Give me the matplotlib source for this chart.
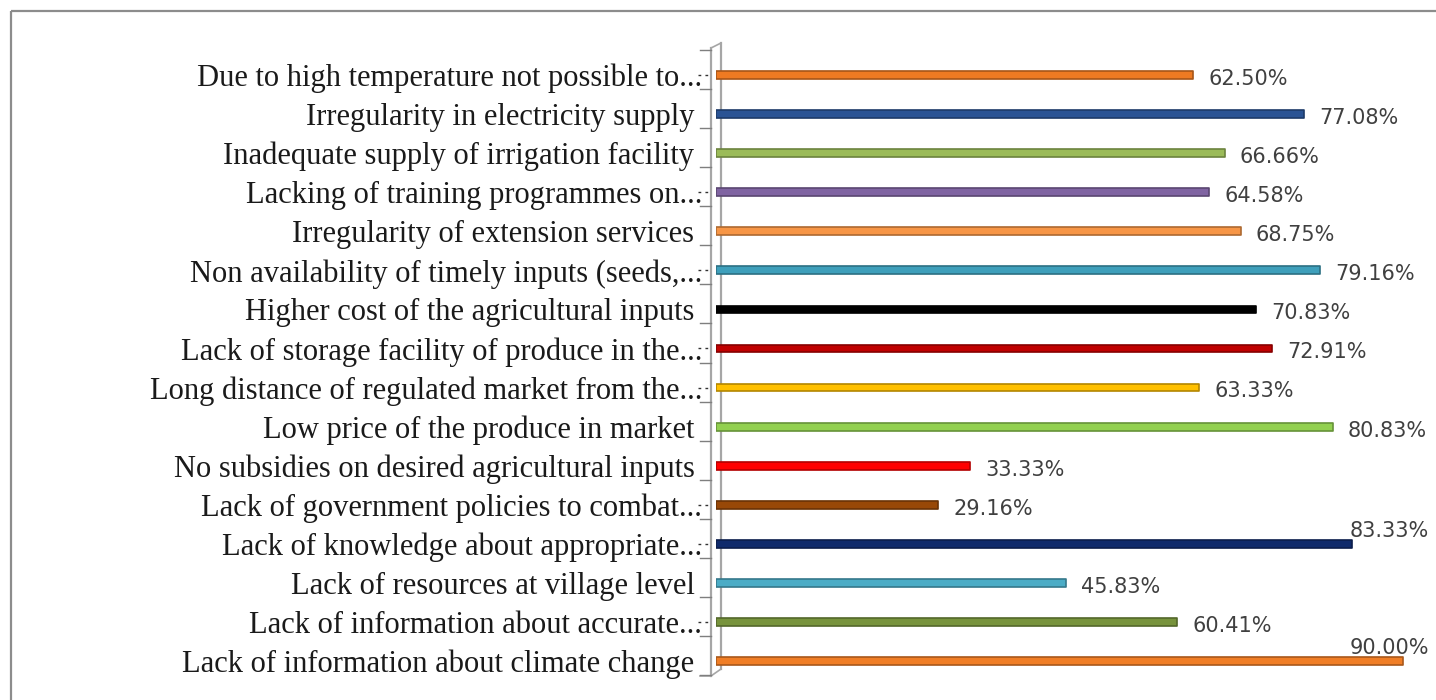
import matplotlib
matplotlib.use("Agg")
import matplotlib.pyplot as plt
from matplotlib.patches import Rectangle
from matplotlib.colors import to_rgb
import numpy as np

# constraint labels, top row first
labels = [
    "Due to high temperature not possible to...",
    "Irregularity in electricity supply ",
    "Inadequate supply of irrigation facility ",
    "Lacking of training programmes on...",
    "Irregularity of extension services ",
    "Non availability of timely inputs (seeds,...",
    "Higher cost of the agricultural inputs ",
    "Lack of storage facility of produce in the...",
    "Long distance of regulated market from the...",
    "Low price of the produce in market ",
    "No subsidies on desired agricultural inputs ",
    "Lack of government policies to combat...",
    "Lack of knowledge about appropriate...",
    "Lack of resources at village level ",
    "Lack of information about accurate...",
    "Lack of information about climate change ",
]
percent = [62.50, 77.08, 66.66, 64.58, 68.75, 79.16, 70.83, 72.91,
           63.33, 80.83, 33.33, 29.16, 83.33, 45.83, 60.41, 90.00]

colors = ["#EE7A22", "#2A5394", "#9BBB59", "#8064A2", "#F79646", "#3E9FBB",
          "#000000", "#C00000", "#FFC000", "#92D050", "#FF0000", "#984807",
          "#0F2A6B", "#4BACC6", "#77933C", "#F07E26"]

W, H = 1436, 700
fig = plt.figure(figsize=(W / 100, H / 100), dpi=100)

# pixel overlay for the frame and the 3-D axis wall
bg = fig.add_axes([0, 0, 1, 1])
bg.set_xlim(0, W)
bg.set_ylim(H, 0)
bg.axis("off")

ax = fig.add_axes([716 / W, 1 - 680.5 / H, 1 - 716 / W, (680.5 - 55.5) / H])
ax.patch.set_visible(False)
n = len(labels)
ypos = np.arange(n)[::-1]


def darker(c, f=0.7):
    r, g, b = to_rgb(c)
    return (r * f, g * f, b * f)


bars = ax.barh(ypos, percent, height=0.2, color=colors,
               edgecolor=[darker(c) for c in colors], linewidth=1.2)
for b in bars:
    b.set_joinstyle("round")

for y, v in zip(ypos, percent):
    txt = f"{v:.2f}%"
    if v > 82:
        ax.text(83.0, y + 0.07, txt, ha="left", va="bottom",
                fontsize=15, color="#404040", family="DejaVu Sans")
    else:
        ax.text(v + 2.0, y - 0.1, txt, ha="left", va="center",
                fontsize=15, color="#404040", family="DejaVu Sans")

ax.set_xlim(0, (W - 716) / 7.63)
ax.set_ylim(-0.5, n - 0.5)
ax.set_yticks(ypos)
ax.set_yticklabels(labels, family="Liberation Serif", fontsize=22,
                   color="#1a1a1a")
ax.tick_params(axis="y", length=0, pad=10)
ax.set_xticks([])
for s in ax.spines.values():
    s.set_visible(False)

# outer chart frame
bg.add_patch(Rectangle((11, 11), W, H, fill=False, edgecolor="#8C8C8C",
                       linewidth=1.6))

# axis wall drawn in perspective
wall = "#A6A6A6"
bg.plot([711, 711], [48, 676], color=wall, lw=1.6)
bg.plot([721, 721], [43, 669], color=wall, lw=1.6)
bg.plot([711, 721], [48, 43], color=wall, lw=1.2)
bg.plot([711, 721], [676, 669], color=wall, lw=1.2)
bg.plot([700, 711], [676, 676], color=wall, lw=1.2)
for k in range(n + 1):
    ty = 50 + 39.07 * k
    bg.plot([700, 711], [ty, ty], color="#7F7F7F", lw=1.0)

# leaders for truncated labels
for y, lab in zip(ypos, labels):
    if lab.endswith("..."):
        py = H - ax.transData.transform((0, y))[1]
        bg.plot([698, 711], [py, py], color="#333333", lw=1.0,
                ls=(0, (2, 3)))

fig.savefig("out.png", dpi=100)
